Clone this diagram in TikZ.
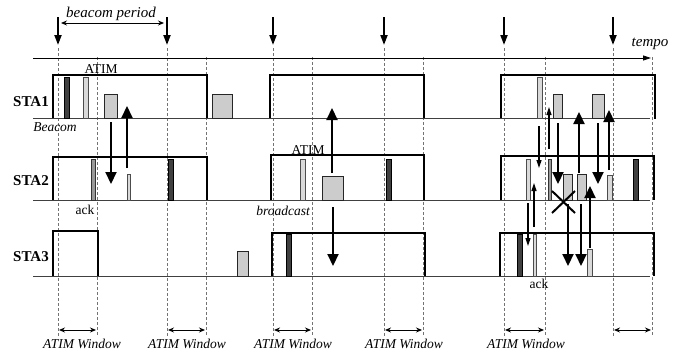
\documentclass[tikz,border=0pt]{standalone}
\usepackage{fontspec}
\setmainfont{Liberation Serif}
\usetikzlibrary{arrows.meta}
\begin{document}
\begin{tikzpicture}[x=1pt,y=-1pt,
  lane/.style={draw=black!75, line width=0.9pt},
  win/.style={draw=black, line width=1.5pt},
  darkbar/.style={draw=black, fill=black!75, line width=0.6pt},
  lightbar/.style={draw=black!70, fill=black!15, line width=0.6pt},
  midbar/.style={draw=black!80, fill=black!40, line width=0.6pt},
  gbox/.style={draw=black!85, fill=black!20, line width=0.7pt},
  dashv/.style={draw=black!55, dash pattern=on 3pt off 2pt, line width=0.5pt},
  bigarrow/.style={-{Triangle[width=11pt,length=12pt]}, line width=2.1pt},
  thinarrow/.style={-{Triangle[width=5pt,length=8pt]}, line width=1.2pt},
  beaconarrow/.style={-{Triangle[width=7pt,length=10pt]}, line width=1.9pt},
  dimarrow/.style={{Stealth[width=5pt,length=6pt]}-{Stealth[width=5pt,length=6pt]}, line width=0.9pt},
  txt/.style={font=\fontsize{13.5}{16}\selectfont, inner sep=0pt},
  itxt/.style={font=\fontsize{13.5}{16}\selectfont\itshape, inner sep=0pt},
  bigitxt/.style={font=\fontsize{15}{18}\selectfont\itshape, inner sep=0pt},
  sta/.style={font=\fontsize{15}{18}\selectfont\bfseries, inner sep=0pt}]
\useasboundingbox (0,0) rectangle (682,356);
% dashed verticals
\foreach \x in {58,167,273,384,504,613} \draw[dashv] (\x,48) -- (\x,336);
\foreach \x in {97,206,312,423,545,652} \draw[dashv] (\x,57) -- (\x,336);
% beacon arrows
\foreach \x in {58,167,273,384,504,613} \draw[beaconarrow] (\x,17) -- (\x,45);
% time axis
\draw[line width=0.8pt, -{Triangle[width=5pt,length=8pt]}] (33,58) -- (651,58);
\node[bigitxt] (tempo) at (650,44) {tempo};
\node[bigitxt] (period) at (111,14) {beacom period};
\draw[dimarrow] (61,23) -- (164,23);
% lanes
\draw[lane] (33,118) -- (650,118);
\draw[lane] (33,200) -- (650,200);
\draw[lane] (33,276) -- (650,276);
% STA1 windows
\draw[win] (53,118) -- (53,75) -- (207,75) -- (207,118);
\draw[win] (270,118) -- (270,75) -- (424,75) -- (424,118);
\draw[win] (501,118) -- (501,75) -- (655,75) -- (655,119);
% STA2 windows
\draw[win] (53,200) -- (53,157) -- (207,157) -- (207,200);
\draw[win] (271,200) -- (271,155) -- (424,155) -- (424,200);
\draw[win] (501,200) -- (501,156) -- (654,156) -- (654,200);
% STA3 windows
\draw[win] (53,276) -- (53,231) -- (98,231) -- (98,276);
\draw[win] (272,276) -- (272,233) -- (425,233) -- (425,276);
\draw[win] (500,276) -- (500,233) -- (654,233) -- (654,276);
% section 1 frames
\draw[darkbar] (64,77) rectangle (69,118);
\draw[lightbar] (83,77) rectangle (88,118);
\draw[gbox] (104,94) rectangle (117,118);
\draw[gbox] (212,94) rectangle (232,118);
\draw[midbar] (91,159) rectangle (95,200);
\draw[lightbar] (127,174) rectangle (130,200);
\draw[darkbar] (168,159) rectangle (173,200);
\draw[bigarrow] (111,122) -- (111,184);
\draw[bigarrow] (127,168) -- (127,106);
% section 2 frames
\draw[lightbar] (300,159) rectangle (305,200);
\draw[gbox] (322,176) rectangle (343,200);
\draw[darkbar] (386,159) rectangle (391,200);
\draw[gbox] (237,251) rectangle (248,276);
\draw[darkbar] (286,234) rectangle (291,276);
\draw[bigarrow] (332,173) -- (332,108);
\draw[bigarrow] (333,207) -- (333,266);
% section 3 frames
\draw[lightbar] (537,77) rectangle (542,118);
\draw[gbox] (553,94) rectangle (562,118);
\draw[gbox] (592,94) rectangle (604,118);
\draw[lightbar] (526,159) rectangle (530,200);
\draw[midbar] (548,159) rectangle (551,200);
\draw[gbox] (563,174) rectangle (572,200);
\draw[gbox] (577,174) rectangle (586,200);
\draw[lightbar] (607,175) rectangle (612,200);
\draw[darkbar] (633,159) rectangle (638,200);
\draw[darkbar] (517,234) rectangle (522,276);
\draw[lightbar] (533,234) rectangle (536,276);
\draw[lightbar] (587,249) rectangle (592,276);
\draw[thinarrow] (539,126) -- (539,168);
\draw[thinarrow] (549,149) -- (549,107);
\draw[thinarrow] (528,203) -- (528,246);
\draw[thinarrow] (534,227) -- (534,183);
\draw[bigarrow] (558,123) -- (558,184);
\draw[bigarrow] (579,173) -- (579,112);
\draw[bigarrow] (598,123) -- (598,184);
\draw[bigarrow] (609,170) -- (609,110);
\draw[bigarrow] (568,204) -- (568,266);
\draw[bigarrow] (581,204) -- (581,266);
\draw[bigarrow] (590,248) -- (590,186);
\draw[line width=2pt] (552,191) -- (575,213) (552,213) -- (575,191);
% labels
\node[sta] (s1) at (31,102) {STA1};
\node[sta] (s2) at (31,181) {STA2};
\node[sta] (s3) at (31,257) {STA3};
\node[txt] (atim1) at (101,69) {ATIM};
\node[itxt] (beacom) at (55,127) {Beacom};
\node[txt] (ack1) at (85,210) {ack};
\node[txt] (atim2) at (308,150) {ATIM};
\node[itxt] (bcast) at (283,211) {broadcast};
\node[txt] (ack2) at (539,284) {ack};
% ATIM windows
\foreach \a/\b in {58/97,167/206,273/312,384/423,504/545,613/652}
  \draw[dimarrow] (\a+1,330) -- (\b-1,330);
\node[itxt] (w1) at (82,344) {ATIM Window};
\node[itxt] (w2) at (187,344) {ATIM Window};
\node[itxt] (w3) at (293,344) {ATIM Window};
\node[itxt] (w4) at (404,344) {ATIM Window};
\node[itxt] (w5) at (526,344) {ATIM Window};
\end{tikzpicture}
\end{document}
